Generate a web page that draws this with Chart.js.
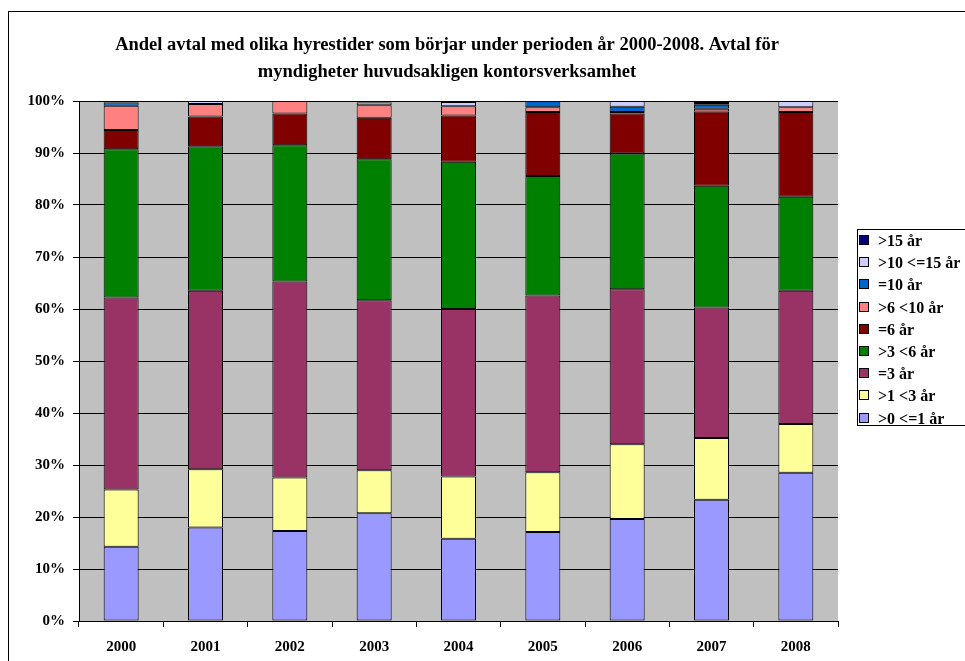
<!DOCTYPE html>
<html>
<head>
<meta charset="utf-8">
<script src="https://cdn.jsdelivr.net/npm/chart.js@4.4.0/dist/chart.umd.min.js"></script>
<style>
  html, body { margin: 0; padding: 0; background: #fff; }
  .wrap { position: relative; width: 965px; height: 661px; overflow: hidden; }
  .frame { position: absolute; left: 8px; top: 11px; width: 960px; height: 700px; border: 1px solid #000; box-sizing: border-box; }
  canvas { position: absolute; left: 0; top: 0; }
  .legend { position: absolute; left: 857px; top: 229px; width: 112px; height: 197px; border: 1px solid #000; background: #fff; box-sizing: border-box;
            font: bold 16px "Liberation Serif", "Times New Roman", serif; }
  .legend div { position: absolute; left: 0; height: 18px; line-height: 18px; white-space: nowrap; }
  .legend span { display: inline-block; width: 8px; height: 8px; border: 1px solid #000; margin: 0 9px 0 1px; vertical-align: 1px; }
</style>
</head>
<body>
<div class="wrap">
  <div class="frame"></div>
  <canvas class="bar-chart" width="965" height="661"></canvas>
  <div class="legend"></div>
</div>
<script>
const years = ["2000", "2001", "2002", "2003", "2004", "2005", "2006", "2007", "2008"];

// share of contracts per year, %, bottom segment first
const upTo1 = [14.3, 18.0, 17.3, 20.7, 15.8, 17.1, 19.6, 23.3, 28.5];
const from1to3 = [11.0, 11.2, 10.3, 8.3, 12.0, 11.5, 14.4, 11.9, 9.4];
const eq3 = [36.9, 34.3, 37.7, 32.7, 32.2, 34.0, 29.8, 25.1, 25.6];
const from3to6 = [28.5, 27.8, 26.2, 27.1, 28.3, 23.0, 26.1, 23.4, 18.1];
const eq6 = [3.7, 5.7, 6.1, 8.0, 8.9, 12.3, 7.7, 14.3, 16.3];
const from6to10 = [4.7, 2.4, 2.4, 2.4, 1.8, 0.9, 0.3, 0.5, 0.9];
const eq10 = [0.6, 0, 0, 0, 0, 1.2, 1.0, 0.8, 0];
const from10to15 = [0, 0.6, 0, 0.5, 0.8, 0, 1.1, 0.3, 1.2];
const over15 = [0.3, 0, 0, 0.3, 0.2, 0, 0, 0.4, 0];

const yTicks = [0, 10, 20, 30, 40, 50, 60, 70, 80, 90, 100];

const titleLines = [
  "Andel avtal med olika hyrestider som börjar under perioden år 2000-2008. Avtal för",
  "myndigheter huvudsakligen kontorsverksamhet"
];

const series = [
  { label: ">0 <=1 år", data: upTo1, color: "#9999FF" },
  { label: ">1 <3 år", data: from1to3, color: "#FFFF99" },
  { label: "=3 år", data: eq3, color: "#993366" },
  { label: ">3 <6 år", data: from3to6, color: "#008000" },
  { label: "=6 år", data: eq6, color: "#800000" },
  { label: ">6 <10 år", data: from6to10, color: "#FF8080" },
  { label: "=10 år", data: eq10, color: "#0066CC" },
  { label: ">10 <=15 år", data: from10to15, color: "#CCCCFF" },
  { label: ">15 år", data: over15, color: "#000080" },
];

const serif = "'Liberation Serif', 'Times New Roman', serif";

const plotBg = {
  id: "plotBg",
  beforeDraw(chart) {
    const { ctx, chartArea } = chart;
    ctx.save();
    ctx.fillStyle = "#C0C0C0";
    ctx.fillRect(chartArea.left, chartArea.top, chartArea.right - chartArea.left, chartArea.bottom - chartArea.top);
    ctx.restore();
  },
};

// title is centred on the whole frame, not on the plot
const frameTitle = {
  id: "frameTitle",
  afterDraw(chart) {
    const ctx = chart.ctx;
    ctx.save();
    ctx.fillStyle = "#000";
    ctx.font = "bold 18.5px " + serif;
    ctx.textAlign = "center";
    ctx.textBaseline = "middle";
    titleLines.forEach((line, i) => ctx.fillText(line, 447, 45 + i * 27));
    ctx.restore();
  },
};

const ctx = document.querySelector(".bar-chart").getContext("2d");

const bar_chart = new Chart(ctx, {
  type: "bar",
  data: {
    labels: years,
    datasets: series.map((s) => ({
      label: s.label,
      data: s.data,
      backgroundColor: s.color,
      borderColor: "#000",
      borderWidth: 1,
      borderSkipped: false,
      categoryPercentage: 1,
      barPercentage: 0.415,
    })),
  },
  plugins: [plotBg, frameTitle],
  options: {
    responsive: false,
    animation: false,
    layout: {
      padding: { left: 19, right: 127, top: 101, bottom: 8 },
    },
    plugins: {
      legend: { display: false },
      tooltip: { enabled: false },
      title: { display: false },
    },
    scales: {
      x: {
        stacked: true,
        grid: {
          display: true,
          offset: true,
          drawOnChartArea: false,
          drawTicks: true,
          tickLength: 6,
          tickColor: "#000",
        },
        border: { color: "#000", width: 1 },
        ticks: {
          color: "#000",
          font: { family: serif, size: 15, weight: "bold" },
          padding: 11,
        },
        afterFit(scale) {
          scale.height = 32;
        },
      },
      y: {
        stacked: true,
        min: 0,
        max: 100,
        afterBuildTicks(scale) {
          scale.ticks = yTicks.map((v) => ({ value: v }));
        },
        grid: {
          color: "#000",
          lineWidth: 1,
          tickLength: 6,
          tickColor: "#000",
        },
        border: { color: "#000", width: 1 },
        ticks: {
          color: "#000",
          font: { family: serif, size: 15, weight: "bold" },
          padding: 8,
          callback: (v) => v + "%",
        },
        afterFit(scale) {
          scale.width = 60;
        },
      },
    },
  },
});

// legend, top entry is the last series
const legendBox = document.querySelector(".legend");
series.slice().reverse().forEach((s, i) => {
  const row = document.createElement("div");
  row.style.top = (2 + i * 22.2) + "px";
  row.innerHTML = '<span style="background:' + s.color + '"></span>' + s.label;
  legendBox.appendChild(row);
});
</script>
</body>
</html>
